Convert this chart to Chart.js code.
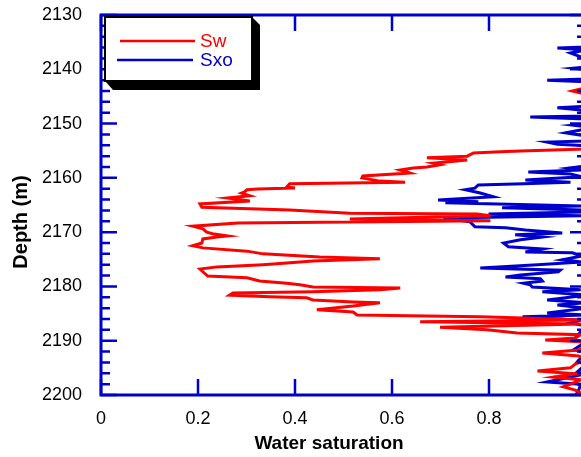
<!DOCTYPE html>
<html lang="en">
<head>
  <meta charset="UTF-8">
  <title>Water saturation</title>
  <script src="https://cdn.jsdelivr.net/npm/chart.js@4"></script>
  <style>
    html, body { margin: 0; padding: 0; overflow: hidden; background: #fff; }
  </style>
</head>
<body>
  <canvas id="grafico" width="600" height="457"></canvas>

  <script>
    var swDepth = [2130, 2143.4, 2144.0, 2144.6, 2154.7, 2155.05, 2155.2, 2155.4, 2156.0, 2156.3, 2156.7, 2157.3, 2157.6, 2158.0, 2158.2, 2158.55, 2159.1, 2159.65, 2160.0, 2160.6, 2160.8, 2161.1, 2161.7, 2161.86, 2162.04, 2162.2, 2162.6, 2162.8, 2163.3, 2163.7, 2164.25, 2164.8, 2165.4, 2165.9, 2166.5, 2166.65, 2167.0, 2167.6, 2167.9, 2168.3, 2168.9, 2169.4, 2170.0, 2170.3, 2170.7, 2170.9, 2171.25, 2172.0, 2172.5, 2172.9, 2173.5, 2174.0, 2174.6, 2174.9, 2175.3, 2175.7, 2176.0, 2176.4, 2176.8, 2177.3, 2178.1, 2178.4, 2179.0, 2179.4, 2179.7, 2180.1, 2180.3, 2180.6, 2181.0, 2181.2, 2181.6, 2181.9, 2182.1, 2182.5, 2182.85, 2183.0, 2183.6, 2184.3, 2184.7, 2185.25, 2185.6, 2185.8, 2186.2, 2186.5, 2186.9, 2187.5, 2188.0, 2188.6, 2188.9, 2189.5, 2189.85, 2190.2, 2191.0, 2191.7, 2192.25, 2192.8, 2193.5, 2194.3, 2195.0, 2195.6, 2196.1, 2196.7, 2197.2, 2198.0, 2198.5, 2199.1, 2199.6, 2200.2]
    var swValue = [1.0, 1.0, 0.972, 1.0, 1.0, 0.865, 0.823, 0.768, 0.755, 0.672, 0.755, 0.685, 0.699, 0.672, 0.644, 0.617, 0.637, 0.540, 0.538, 0.575, 0.627, 0.389, 0.383, 0.400, 0.323, 0.301, 0.296, 0.290, 0.307, 0.261, 0.307, 0.204, 0.208, 0.389, 0.513, 0.776, 0.803, 0.513, 0.803, 0.282, 0.189, 0.210, 0.218, 0.230, 0.261, 0.239, 0.210, 0.208, 0.189, 0.210, 0.301, 0.334, 0.451, 0.575, 0.437, 0.383, 0.334, 0.239, 0.204, 0.210, 0.220, 0.301, 0.327, 0.383, 0.410, 0.437, 0.617, 0.575, 0.437, 0.272, 0.265, 0.348, 0.424, 0.437, 0.520, 0.575, 0.520, 0.445, 0.520, 0.528, 0.782, 0.871, 0.989, 0.658, 0.989, 0.699, 0.796, 0.858, 0.989, 0.978, 0.916, 0.989, 1.0, 0.985, 0.910, 0.985, 1.0, 0.978, 0.968, 0.900, 0.978, 0.933, 0.989, 0.968, 0.953, 0.978, 0.989, 0.978]

    var sxoDepth = [2130, 2135.9, 2136.1, 2136.45, 2137.0, 2137.7, 2138.3, 2139.6, 2139.8, 2140.1, 2141.8, 2142.0, 2142.3, 2146.8, 2147.1, 2147.5, 2148.6, 2148.8, 2149.15, 2150.1, 2150.3, 2150.6, 2151.2, 2151.7, 2152.3, 2153.2, 2153.4, 2153.8, 2154.1, 2157.8, 2158.2, 2158.55, 2158.9, 2159.3, 2159.8, 2160.4, 2160.8, 2161.1, 2161.3, 2161.9, 2162.2, 2162.8, 2163.5, 2164.1, 2164.4, 2164.6, 2165.2, 2165.5, 2165.9, 2166.3, 2166.65, 2167.0, 2167.4, 2168.1, 2169.0, 2169.2, 2169.6, 2170.15, 2170.5, 2170.9, 2171.4, 2172.0, 2172.7, 2173.1, 2173.65, 2173.8, 2174.4, 2175.1, 2175.5, 2176.0, 2176.6, 2177.0, 2177.3, 2177.9, 2178.25, 2178.6, 2179.0, 2179.4, 2179.7, 2180.1, 2180.6, 2181.0, 2181.6, 2182.5, 2183.0, 2183.4, 2184.0, 2184.9, 2185.25, 2185.6, 2186.2, 2186.7, 2187.3, 2189.85, 2190.2, 2191.7, 2192.1, 2193.9, 2194.3, 2195.75, 2196.1, 2197.6, 2198.0, 2199.1, 2200.2]
    var sxoValue = [1.0, 1.0, 0.941, 1.0, 0.968, 0.989, 1.0, 1.0, 0.974, 1.0, 1.0, 0.920, 1.0, 1.0, 0.941, 0.989, 1.0, 0.885, 1.0, 1.0, 0.974, 1.0, 0.989, 0.958, 1.0, 1.0, 0.920, 0.941, 1.0, 1.0, 0.964, 0.991, 0.881, 0.968, 0.991, 0.875, 0.968, 0.871, 0.778, 0.771, 0.751, 0.782, 0.809, 0.695, 0.778, 0.710, 0.991, 0.827, 0.991, 0.991, 0.799, 0.991, 0.706, 0.761, 0.771, 0.834, 0.875, 0.951, 0.854, 0.910, 0.865, 0.830, 0.840, 0.910, 0.875, 0.972, 0.991, 0.951, 0.991, 0.900, 0.782, 0.947, 0.943, 0.865, 0.834, 0.906, 0.910, 0.871, 0.885, 0.889, 0.989, 0.910, 1.0, 0.920, 1.0, 0.941, 1.0, 0.920, 1.0, 0.869, 0.989, 0.968, 1.0, 0.974, 1.0, 0.974, 1.0, 0.982, 1.0, 0.982, 1.0, 0.920, 0.989, 0.985, 0.978]

    var xTicks = [0, 0.2, 0.4, 0.6, 0.8, 1]
    var xLabels = ['0', '0.2', '0.4', '0.6', '0.8', '']
    var yTicks = [2130, 2140, 2150, 2160, 2170, 2180, 2190, 2200]

    var vermelho = '#FF0000'
    var azul = '#0000CC'

    function pontos(depth, value) {
      var lista = []
      for (var i = 0; i < depth.length; i++) {
        lista.push({ x: value[i], y: depth[i] })
      }
      return lista
    }

    // frame, inward ticks, boxed legend and axis titles like the original plot
    var moldura = {
      id: 'moldura',
      afterDraw: function (chart) {
        var c = chart.ctx
        var a = chart.chartArea
        var xs = chart.scales.x
        var ys = chart.scales.y
        c.save()
        c.strokeStyle = azul
        c.lineWidth = 3
        c.strokeRect(a.left, a.top, a.right - a.left, a.bottom - a.top)

        c.beginPath()
        for (var i = 0; i < xTicks.length; i++) {
          var px = xs.getPixelForValue(xTicks[i])
          c.moveTo(px, a.bottom); c.lineTo(px, a.bottom - 16)
          c.moveTo(px, a.top); c.lineTo(px, a.top + 16)
        }
        for (var d = yTicks[0]; d <= yTicks[yTicks.length - 1]; d += 2) {
          var py = ys.getPixelForValue(d)
          var len = (d % 10 === 0) ? 16 : 9
          c.moveTo(a.left, py); c.lineTo(a.left + len, py)
          c.moveTo(a.right, py); c.lineTo(a.right - len, py)
        }
        c.lineWidth = 2.5
        c.stroke()

        // legend box with black extruded shadow
        c.fillStyle = '#000'
        c.beginPath()
        c.moveTo(252, 17); c.lineTo(260, 25); c.lineTo(260, 90)
        c.lineTo(113, 90); c.lineTo(105, 81); c.closePath()
        c.fill()
        c.fillStyle = '#fff'
        c.fillRect(105, 17, 147, 64)
        c.strokeStyle = '#000'
        c.lineWidth = 2
        c.strokeRect(105, 17, 147, 64)

        var ds = chart.data.datasets
        var linhas = [[120, 195, 41], [117, 193, 60]]
        c.font = '19px "Liberation Sans", Arial, sans-serif'
        c.textBaseline = 'middle'
        c.textAlign = 'left'
        for (var k = 0; k < ds.length; k++) {
          c.strokeStyle = ds[k].borderColor
          c.lineWidth = 2.5
          c.beginPath()
          c.moveTo(linhas[k][0], linhas[k][2]); c.lineTo(linhas[k][1], linhas[k][2])
          c.stroke()
          c.fillStyle = ds[k].borderColor
          c.fillText(ds[k].label, 200, linhas[k][2] + 1)
        }

        // axis titles
        c.fillStyle = '#000'
        c.textAlign = 'center'
        c.font = 'bold 19px "Liberation Sans", Arial, sans-serif'
        c.fillText('Water saturation', 329, 444)
        c.translate(21, 222)
        c.rotate(-Math.PI / 2)
        c.font = 'bold 20px "Liberation Sans", Arial, sans-serif'
        c.fillText('Depth (m)', 0, 0)
        c.restore()
      }
    }

    Chart.defaults.font.family = '"Liberation Sans", Arial, sans-serif'
    Chart.defaults.color = '#000'

    new Chart(document.getElementById('grafico'), {
      type: 'scatter',
      data: {
        datasets: [{
          label: 'Sw',
          data: pontos(swDepth, swValue),
          showLine: true,
          borderColor: vermelho,
          borderWidth: 3,
          pointRadius: 0,
          tension: 0
        }, {
          label: 'Sxo',
          data: pontos(sxoDepth, sxoValue),
          showLine: true,
          borderColor: azul,
          borderWidth: 3,
          pointRadius: 0,
          tension: 0
        }]
      },
      options: {
        responsive: false,
        animation: false,
        devicePixelRatio: 1,
        layout: { padding: { top: 15, right: 14, bottom: 0, left: 0 } },
        plugins: {
          legend: { display: false },
          tooltip: { enabled: false }
        },
        scales: {
          x: {
            type: 'linear',
            min: 0,
            max: 1,
            grid: { display: false },
            border: { display: false },
            afterBuildTicks: function (scale) {
              scale.ticks = xTicks.map(function (v) { return { value: v } })
            },
            afterFit: function (scale) {
              scale.height = 62
              scale.paddingLeft = 0
              scale.paddingRight = 0
            },
            ticks: {
              font: { size: 18 },
              padding: 5,
              maxRotation: 0,
              callback: function (v) { return xLabels[xTicks.indexOf(v)] }
            }
          },
          y: {
            type: 'linear',
            reverse: true,
            min: 2130,
            max: 2200,
            grid: { display: false },
            border: { display: false },
            afterBuildTicks: function (scale) {
              scale.ticks = yTicks.map(function (v) { return { value: v } })
            },
            afterFit: function (scale) {
              scale.width = 101
              scale.paddingTop = 0
              scale.paddingBottom = 0
            },
            ticks: {
              font: { size: 18 },
              padding: 11,
              callback: function (v) { return String(v) }
            }
          }
        }
      },
      plugins: [moldura]
    })
  </script>
</body>
</html>
